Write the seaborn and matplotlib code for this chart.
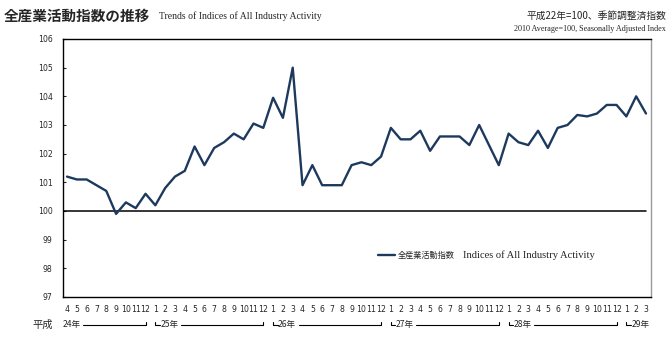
import numpy as np
import pandas as pd
import matplotlib
matplotlib.use("Agg")
import matplotlib.pyplot as plt
import matplotlib.transforms as mtransforms
import seaborn as sns

# ---- data (平成24年4月 ～ 平成29年3月) ----
year_labels = ["24年", "25年", "26年", "27年", "28年", "29年"]
h24_months = [4, 5, 6, 7, 8, 9, 10, 11, 12]
h24 = [101.2, 101.1, 101.1, 100.9, 100.7, 99.9, 100.3, 100.1, 100.6]
h25_months = [1, 2, 3, 4, 5, 6, 7, 8, 9, 10, 11, 12]
h25 = [100.2, 100.8, 101.2, 101.4, 102.25, 101.6, 102.2, 102.4, 102.7, 102.5, 103.05, 102.9]
h26_months = [1, 2, 3, 4, 5, 6, 7, 8, 9, 10, 11, 12]
h26 = [103.95, 103.25, 105.0, 100.9, 101.6, 100.9, 100.9, 100.9, 101.6, 101.7, 101.6, 101.9]
h27_months = [1, 2, 3, 4, 5, 6, 7, 8, 9, 10, 11, 12]
h27 = [102.9, 102.5, 102.5, 102.8, 102.1, 102.6, 102.6, 102.6, 102.3, 103.0, 102.3, 101.6]
h28_months = [1, 2, 3, 4, 5, 6, 7, 8, 9, 10, 11, 12]
h28 = [102.7, 102.4, 102.3, 102.8, 102.2, 102.9, 103.0, 103.35, 103.3, 103.4, 103.7, 103.7]
h29_months = [1, 2, 3]
h29 = [103.3, 104.0, 103.4]

series_label_jp = "全産業活動指数"
series_label_en = "Indices of All Industry Activity"
y_ticks = [97, 98, 99, 100, 101, 102, 103, 104, 105, 106]

month_groups = [h24_months, h25_months, h26_months, h27_months, h28_months, h29_months]
value_groups = [h24, h25, h26, h27, h28, h29]

months = [m for g in month_groups for m in g]
values = [v for g in value_groups for v in g]
df = pd.DataFrame({"idx": np.arange(len(values)), "value": values,
                   "month": [str(m) for m in months]})

# ---- style ----
sns.set_style("ticks")
plt.rcParams["font.family"] = ["Noto Sans CJK JP", "DejaVu Sans"]
navy = "#1d3a5e"
serif = ["Liberation Serif", "DejaVu Serif"]

fig = plt.figure(figsize=(6.7, 3.42), dpi=100)
ax = fig.add_axes([63 / 670, 45 / 342, 588 / 670, 258 / 342])

sns.lineplot(data=df, x="idx", y="value", color=navy, lw=1.7, ax=ax,
             label=series_label_jp, legend=False)
ax.axhline(100, xmax=0.991, color="black", lw=1.1, zorder=1)

ax.set_xlim(-0.41, len(values) - 1 + 0.51)
ax.set_ylim(97, 106)
ax.set_yticks(y_ticks)
ax.set_yticklabels([str(t) for t in y_ticks], fontfamily="DejaVu Sans", fontsize=5.6)
ax.set_xticks(df["idx"])
ax.set_xticklabels(df["month"], fontfamily="DejaVu Sans", fontsize=5.6)
ax.tick_params(axis="y", direction="in", length=2.5, width=0.8, pad=7.5)
ax.tick_params(axis="x", length=0, pad=5.5)
ax.set_xlabel("")
ax.set_ylabel("")
for s in ["left", "top", "bottom"]:
    ax.spines[s].set_visible(True)
    ax.spines[s].set_color("black")
    ax.spines[s].set_linewidth(1.0)
ax.spines["right"].set_visible(True)
ax.spines["right"].set_color("#9a9a9a")
ax.spines["right"].set_linewidth(1.0)

# ---- legend ----
leg = ax.legend(loc="center left", bbox_to_anchor=(0.536, 0.163), frameon=False,
                handlelength=2.0, handletextpad=0.4, borderpad=0, borderaxespad=0,
                prop={"family": ["Noto Sans CJK JP", "DejaVu Sans"], "size": 5.9})
ax.text(0.681, 0.163, series_label_en, transform=ax.transAxes, ha="left", va="center",
        fontsize=7.6, fontfamily=serif)

# ---- year brackets ----
trans = mtransforms.blended_transform_factory(ax.transData, ax.transAxes)
yl = -0.1085
yt = -0.095
start = 0
for gi, g in enumerate(month_groups):
    n = len(g)
    first = start
    last = start + n - 1
    if gi == 0:
        tx = -0.41
        ax.text(tx, yl, year_labels[gi], transform=trans, ha="left", va="center",
                fontsize=6.2, clip_on=False)
        lstart = 1.65
    else:
        ax.plot([first, first, first + 0.45], [yt, yl, yl], transform=trans,
                color="black", lw=0.8, clip_on=False)
        ax.text(first + 0.5, yl, year_labels[gi], transform=trans, ha="left",
                va="center", fontsize=6.2, clip_on=False)
        lstart = first + 2.6
    if g[-1] == 12:
        ax.plot([lstart, last, last], [yl, yl, yt], transform=trans,
                color="black", lw=0.8, clip_on=False)
    start += n

fig.text(53 / 670, 1 - 324.5 / 342, "平成", ha="right", va="center", fontsize=7.4)

# ---- titles ----
fig.text(4 / 670, 1 - 16 / 342, "全産業活動指数の推移", ha="left", va="center",
         fontsize=10.5, fontweight="bold")
fig.text(159 / 670, 1 - 16 / 342, "Trends of Indices of All Industry Activity",
         ha="left", va="center", fontsize=7.0, fontfamily=serif)
fig.text(666 / 670, 1 - 15.5 / 342, "平成22年=100、季節調整済指数", ha="right",
         va="center", fontsize=7.0)
fig.text(666 / 670, 1 - 29 / 342, "2010 Average=100, Seasonally Adjusted Index",
         ha="right", va="center", fontsize=5.9, fontfamily=serif)

fig.savefig("out.png", dpi=100)
